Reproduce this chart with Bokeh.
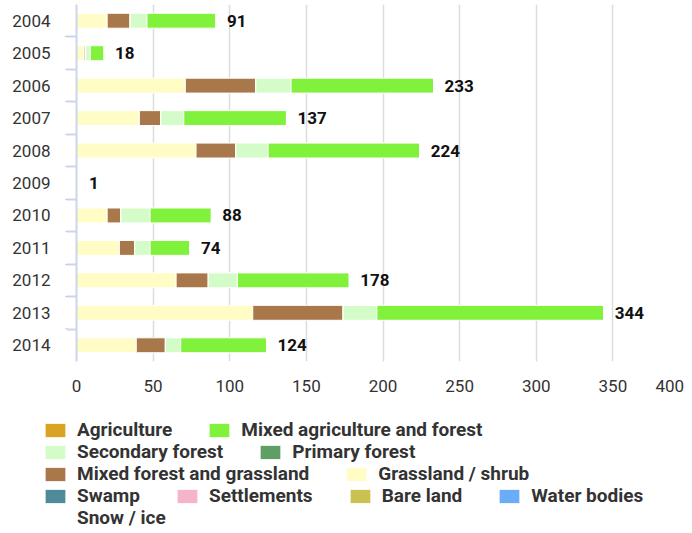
from bokeh.plotting import figure
from bokeh.layouts import column
from bokeh.models import (ColumnDataSource, FactorRange, Range1d, CategoricalAxis,
                          FixedTicker, Legend, LegendItem, LabelSet)
from bokeh.core.properties import value
from bokeh.embed import file_html
from bokeh.resources import INLINE

years = ["2004", "2005", "2006", "2007", "2008", "2009", "2010", "2011", "2012", "2013", "2014"]

# series values (hectares)
agriculture          = [0, 0, 0, 0, 0, 0, 0, 0, 0, 0, 0]
mixed_agri_forest    = [45, 9, 93, 67, 99, 0, 40, 26, 73, 148, 56]
secondary_forest     = [11, 3, 23, 15, 21, 0, 19, 10, 19, 22, 10]
primary_forest       = [0, 0, 0, 0, 0, 0, 0, 0, 0, 0, 0]
mixed_forest_grass   = [15, 1, 46, 14, 26, 0, 9, 10, 21, 59, 19]
grassland_shrub      = [20, 5, 71, 41, 78, 1, 20, 28, 65, 115, 39]
swamp                = [0, 0, 0, 0, 0, 0, 0, 0, 0, 0, 0]
settlements          = [0, 0, 0, 0, 0, 0, 0, 0, 0, 0, 0]
bare_land            = [0, 0, 0, 0, 0, 0, 0, 0, 0, 0, 0]
water_bodies         = [0, 0, 0, 0, 0, 0, 0, 0, 0, 0, 0]
snow_ice             = [0, 0, 0, 0, 0, 0, 0, 0, 0, 0, 0]

series_names = ["Agriculture", "Mixed agriculture and forest", "Secondary forest", "Primary forest",
                "Mixed forest and grassland", "Grassland / shrub", "Swamp", "Settlements",
                "Bare land", "Water bodies", "Snow / ice"]
series_keys = ["agriculture", "mixed_agri_forest", "secondary_forest", "primary_forest",
               "mixed_forest_grass", "grassland_shrub", "swamp", "settlements",
               "bare_land", "water_bodies", "snow_ice"]
series_values = [agriculture, mixed_agri_forest, secondary_forest, primary_forest,
                 mixed_forest_grass, grassland_shrub, swamp, settlements,
                 bare_land, water_bodies, snow_ice]
series_colors = ["#dba326", "#80f23c", "#d4fcc8", "#5f9f63",
                 "#a8784a", "#fffcc6", "#4f8a99", "#f5b4c8",
                 "#c9c252", "#6aacf5", "#ffffff"]

x_ticks = [0, 50, 100, 150, 200, 250, 300, 350, 400]

legend_rows = [
    ["Agriculture", "Mixed agriculture and forest"],
    ["Secondary forest", "Primary forest"],
    ["Mixed forest and grassland", "Grassland / shrub"],
    ["Swamp", "Settlements", "Bare land", "Water bodies"],
    ["Snow / ice"],
]

data = {"year": years}
for k, v in zip(series_keys, series_values):
    data[k] = v
totals = [sum(col) for col in zip(*series_values)]
data["total"] = totals
data["label"] = [str(t) for t in totals]
source = ColumnDataSource(data)

FONT = "Roboto"
TXT = "#333333"

stack_keys = list(reversed(series_keys))      # Highcharts draws last series nearest zero
stack_colors = list(reversed(series_colors))

# ---------------- chart ----------------
p = figure(width=692, height=405, output_backend="svg", toolbar_location=None,
           y_range=FactorRange(factors=list(reversed(years))),
           x_range=Range1d(0, 400), y_axis_location=None,
           min_border_left=76, min_border_right=3, min_border_top=4, min_border_bottom=44)
p.outline_line_color = None
p.background_fill_color = "white"

p.hbar_stack(stack_keys, y="year", height=0.46, color=stack_colors, source=source,
             line_color="white", line_width=1)

labels = LabelSet(x="total", y="year", text="label", source=source, x_offset=11,
                  text_baseline="middle", text_align="left",
                  text_font=value(FONT), text_font_size="17px", text_font_style="bold",
                  text_color="#111111")
p.add_layout(labels)

xa = p.xaxis[0]
xa.ticker = FixedTicker(ticks=x_ticks)
xa.axis_line_color = None
xa.major_tick_line_color = None
xa.minor_tick_line_color = None
xa.major_tick_out = 0
xa.major_label_standoff = 14
xa.major_label_text_font = FONT
xa.major_label_text_font_size = "17px"
xa.major_label_text_color = TXT
xa.major_label_overrides = {400: "400" + "\u00a0" * 2}

p.xgrid.grid_line_color = "#dcdcdc"
p.xgrid.grid_line_width = 1.5
p.xgrid.ticker = FixedTicker(ticks=x_ticks[1:])
p.ygrid.grid_line_color = None

# y axis: tick marks between categories (a shifted factor range) + category labels
bound_names = ["b%d" % i for i in range(len(years) + 1)]
p.extra_y_ranges = {"bounds": FactorRange(factors=bound_names, range_padding=-0.5,
                                          range_padding_units="absolute")}
tick_axis = CategoricalAxis(y_range_name="bounds",
                            major_label_overrides={b: "" for b in bound_names},
                            major_label_text_font_size="1px", major_label_standoff=0,
                            major_tick_out=10, major_tick_in=0,
                            major_tick_line_color="#ccd6eb", major_tick_line_width=2,
                            axis_line_color="#ccd6eb", axis_line_width=2)
p.add_layout(tick_axis, "left")
cat_axis = CategoricalAxis(axis_line_color=None, major_tick_line_color=None,
                           major_tick_out=0, major_tick_in=0, major_label_standoff=11,
                           major_label_text_font=FONT, major_label_text_font_size="17px",
                           major_label_text_color=TXT)
p.add_layout(cat_axis, "left")

# ---------------- legend strip ----------------
lg = figure(width=692, height=128, output_backend="svg", toolbar_location=None,
            x_range=Range1d(0, 1), y_range=FactorRange(factors=years),
            x_axis_location=None, y_axis_location=None,
            min_border_left=0, min_border_right=0, min_border_top=0, min_border_bottom=0)
lg.outline_line_color = None
lg.xgrid.visible = False
lg.ygrid.visible = False

key_renderers = lg.hbar_stack(stack_keys, y="year", height=0.46, color=stack_colors,
                              source=source, line_color="white", line_width=1)
keys_r = {}
for k, r in zip(stack_keys, key_renderers):
    r.visible = False
    keys_r[series_names[series_keys.index(k)]] = r

row_bottoms = [92, 70, 48, 26, 4]
for row, vy in zip(legend_rows, row_bottoms):
    items = [LegendItem(label=name, renderers=[keys_r[name]]) for name in row]
    leg = Legend(items=items, orientation="horizontal", location=(42, vy),
                 padding=0, margin=0, spacing=34, glyph_width=26, glyph_height=18,
                 label_standoff=9, label_height=20,
                 label_text_font=FONT, label_text_font_size="19px", label_text_font_style="bold",
                 label_text_color=TXT, label_text_baseline="middle",
                 inactive_fill_alpha=0, border_line_color=None, background_fill_alpha=0)
    lg.add_layout(leg, "center")

layout = column(p, column(lg), spacing=0)
open("out.html", "w").write(file_html(layout, INLINE))
